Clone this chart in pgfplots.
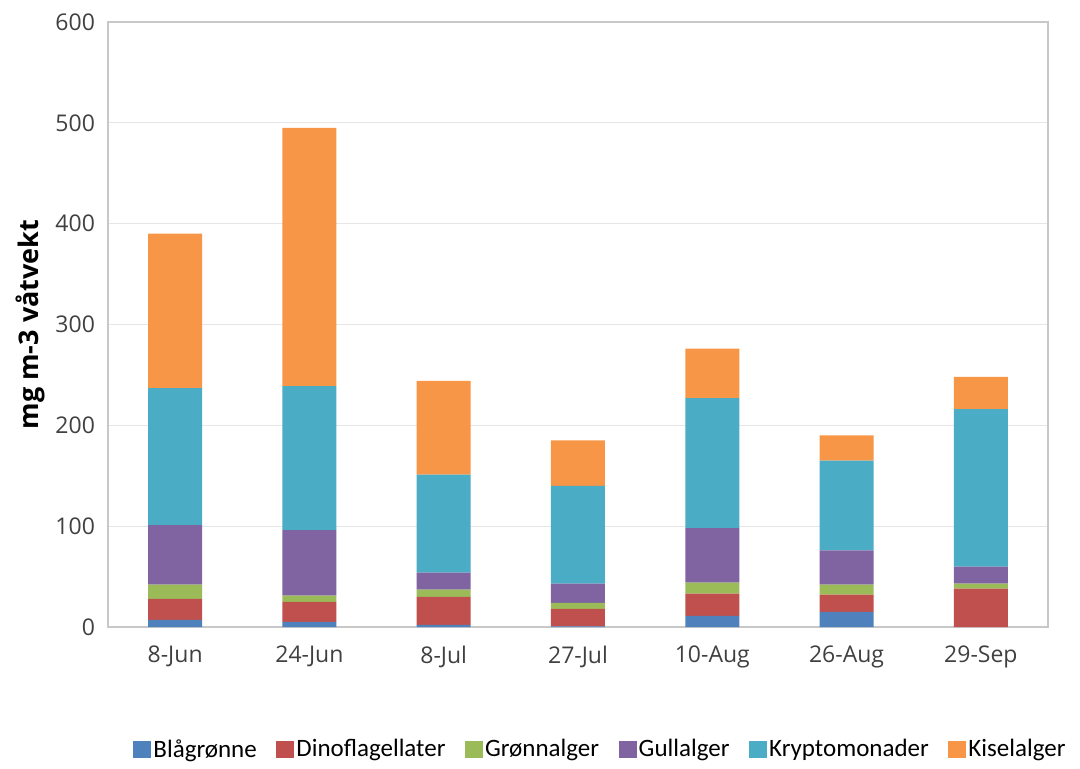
\documentclass[border=0pt]{standalone}
\usepackage{fontspec}
\usepackage{pgfplots}
\pgfplotsset{compat=1.18}
\setmainfont{Open Sans}
\newfontfamily\legendfont{Carlito}

\definecolor{cBlue}{HTML}{4F81BD}
\definecolor{cRed}{HTML}{C0504D}
\definecolor{cGreen}{HTML}{9BBB59}
\definecolor{cPurple}{HTML}{8064A2}
\definecolor{cCyan}{HTML}{4BACC6}
\definecolor{cOrange}{HTML}{F79646}
\definecolor{frameGray}{HTML}{C8C8C8}
\definecolor{gridGray}{HTML}{E6E6E6}
\definecolor{tickText}{HTML}{404040}

\begin{document}
\begin{tikzpicture}
\begin{axis}[
  at={(0,0)}, anchor=south west,
  scale only axis,
  width=470pt, height=302.5pt,
  ybar stacked,
  bar width=27pt,
  xmin=-0.5, xmax=6.5,
  ymin=0, ymax=600,
  ytick={0,100,...,600},
  xtick={0,...,6},
  xticklabels={8-Jun,24-Jun,8-Jul,27-Jul,10-Aug,26-Aug,29-Sep},
  major tick length=0pt,
  ymajorgrids,
  grid style={gridGray, line width=0.6pt},
  axis line style={frameGray, line width=0.9pt},
  tick label style={font=\fontsize{11.5}{13}\selectfont, text=tickText},
  /pgf/number format/assume math mode=true,
  yticklabel style={xshift=-3pt},
  xticklabel style={yshift=-6pt},
  ylabel={\bfseries mg m-3 våtvekt},
  ylabel style={font=\fontsize{13.5}{15}\selectfont, at={(axis description cs:-0.083,0.5)}, anchor=center},
  legend columns=6,
  legend style={
    at={(axis description cs:0.525,-0.203)}, anchor=center,
    draw=none, fill=none,
    font=\legendfont\fontsize{12.5}{14}\selectfont,
    /tikz/every odd column/.append style={column sep=-1pt},
    /tikz/every even column/.append style={column sep=7.8pt},
  },
  every axis plot post/.append style={
    draw=none,
    legend image code/.code={\fill (0pt,-4.2pt) rectangle (9pt,4.2pt);},
  },
]
\addplot[fill=cBlue] coordinates {(0,7) (1,5) (2,2) (3,0.5) (4,11) (5,15) (6,0)};
\addplot[fill=cRed] coordinates {(0,21) (1,20) (2,28) (3,17.5) (4,22) (5,17) (6,38)};
\addplot[fill=cGreen] coordinates {(0,14) (1,6) (2,7) (3,6) (4,11) (5,10) (6,5)};
\addplot[fill=cPurple] coordinates {(0,59) (1,65) (2,17) (3,19) (4,54) (5,34) (6,17)};
\addplot[fill=cCyan] coordinates {(0,136) (1,143) (2,97) (3,97) (4,129) (5,89) (6,156)};
\addplot[fill=cOrange] coordinates {(0,153) (1,256) (2,93) (3,45) (4,49) (5,25) (6,32)};
\legend{Blågrønne,Dinoflagellater,Grønnalger,Gullalger,Kryptomonader,Kiselalger}
\end{axis}
\path (-54pt,-69pt) rectangle (486pt,313.5pt);
\end{tikzpicture}
\end{document}
